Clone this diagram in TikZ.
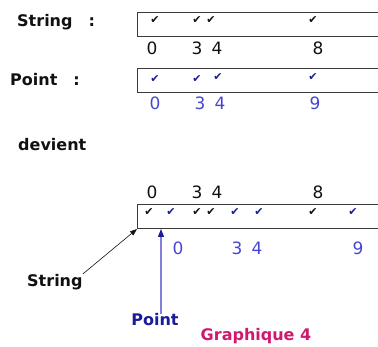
\documentclass[tikz,border=0pt]{standalone}
\usepackage{fontspec}
\setmainfont{DejaVu Sans}
\usepackage{xcolor}
\usetikzlibrary{arrows.meta,positioning}
\definecolor{ink}{HTML}{111111}
\definecolor{frame}{HTML}{3A3A3A}
\definecolor{navy}{HTML}{1A1A9A}
\definecolor{ptblue}{HTML}{4646D2}
\definecolor{ptline}{HTML}{8080D8}
\definecolor{crimson}{HTML}{D0186E}
\tikzset{
  every node/.style={inner sep=0pt,text=ink},
  lbl/.style={font=\fontsize{16}{18}\selectfont\bfseries,anchor=west},
  idx/.style={font=\fontsize{17}{19}\selectfont},
  stridx/.style={idx},
  ptidx/.style={idx,text=ptblue},
  tick/.style={font=\fontsize{11}{12}\selectfont},
  strtick/.style={tick,text=ink},
  pttick/.style={tick,text=navy},
  band/.style={draw=frame,line width=1pt},
  strarrow/.style={-{Triangle[length=7pt,width=5pt]},draw=ink,line width=0.6pt},
  ptarrow/.style={-{Triangle[length=8pt,width=6pt,color=navy,fill=navy]},draw=ptline,line width=1.1pt}
}
\begin{document}
\begin{tikzpicture}[x=1pt,y=-1pt]
  \useasboundingbox (0,0) rectangle (378,347);

  % String row
  \node[lbl] (strlbl) at (17,22) {String\quad:};
  \draw[band] (378,13) -- (137,13) -- (137,37) -- (378,37);
  \foreach \x in {155,197,211,313}
    \node[strtick] at (\x,20) {✔};
  \foreach \x/\d in {152/0,197/3,217/4,318/8}
    \node[stridx] at (\x,48) {\d};

  % Point row
  \node[lbl] (ptlbl) at (10,80) {Point\quad:};
  \draw[band] (378,69) -- (137,69) -- (137,93) -- (378,93);
  \foreach \x/\y in {155/79,197/79,218/77,313/77}
    \node[pttick] at (\x,\y) {✔};
  \foreach \x/\d in {155/0,200/3,220/4,315/9}
    \node[ptidx] at (\x,103) {\d};

  \node[lbl] (devient) at (18,145) {devient};

  % merged row
  \foreach \x/\d in {152/0,197/3,217/4,318/8}
    \node[stridx] at (\x,192) {\d};
  \draw[band] (378,205) -- (137,205) -- (137,229) -- (378,229);
  \coordinate (mergecorner) at (137,229);
  \coordinate (ptbase) at (161,229);
  \foreach \x in {149,197,211,313}
    \node[strtick] at (\x,212) {✔};
  \foreach \x in {171,235,259,353}
    \node[pttick] at (\x,212) {✔};
  \foreach \x/\d in {178/0,237/3,257/4,358/9}
    \node[ptidx] at (\x,248) {\d};

  % pointers
  \node[lbl] (strname) at (27,282) {String};
  \node[lbl,text=navy,anchor=center] (ptname) at (155,320) {Point};
  \node[lbl,text=crimson,anchor=center] (caption) at (256,336) {Graphique 4};
  \draw[strarrow] (strname.north east) -- (mergecorner);
  \draw[ptarrow] (ptname.north -| ptbase) -- (ptbase);
\end{tikzpicture}
\end{document}
